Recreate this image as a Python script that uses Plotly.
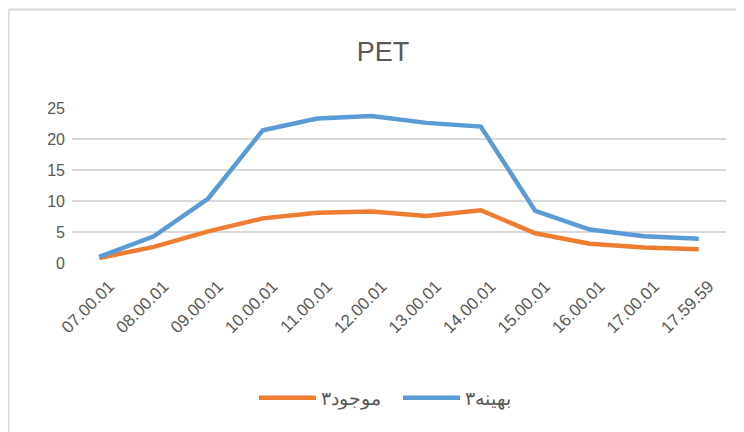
import plotly.graph_objects as go

times = ["07.00.01", "08.00.01", "09.00.01", "10.00.01", "11.00.01", "12.00.01",
         "13.00.01", "14.00.01", "15.00.01", "16.00.01", "17.00.01", "17.59.59"]
mojood = [0.8, 2.6, 5.1, 7.2, 8.1, 8.3, 7.6, 8.5, 4.8, 3.1, 2.5, 2.2]
behineh = [1.0, 4.3, 10.4, 21.4, 23.3, 23.7, 22.6, 22.0, 8.4, 5.4, 4.3, 3.9]

# the page body keeps its default 8px margin, so the figure sits 8px right/down
W, H = 744, 432
OFF = 8
L, R, T, B = 72 - OFF, W - (726 - OFF), 108 - OFF, H - (263 - OFF)
pw, ph = W - L - R, H - T - B

fig = go.Figure()
fig.add_trace(go.Scatter(x=times, y=mojood, mode="lines", name="موجود۳",
                         line=dict(color="#ED7D31", width=4.5)))
fig.add_trace(go.Scatter(x=times, y=behineh, mode="lines", name="بهینه۳",
                         line=dict(color="#5B9BD5", width=4.5)))

# outer chart border (only top and left visible in the picture)
bx = (0.5 - L) / pw
by = (H - B - 1.5) / ph
fig.add_shape(type="line", xref="paper", yref="paper", x0=bx, x1=bx, y0=by, y1=-2,
              line=dict(color="#d9d9d9", width=2))
fig.add_shape(type="line", xref="paper", yref="paper", x0=bx, x1=2, y0=by, y1=by,
              line=dict(color="#d9d9d9", width=2))

fig.update_layout(
    width=W, height=H,
    margin=dict(l=L, r=R, t=T, b=B, autoexpand=False),
    plot_bgcolor="white", paper_bgcolor="white",
    font=dict(family="Liberation Sans", color="#595959"),
    title=dict(text="PET", x=(383 - OFF) / W, xanchor="center",
               y=1 - (52 - OFF) / H, yanchor="middle",
               font=dict(size=27, color="#595959")),
    showlegend=True,
    legend=dict(orientation="h", x=(398 - OFF - L) / pw, xanchor="center",
                y=(H - B - (398 - OFF)) / ph, yanchor="middle",
                font=dict(size=19, color="#595959"), itemwidth=57,
                entrywidth=72),
)
fig.update_xaxes(type="category", range=[-0.5, 11.5], tickangle=-45, showgrid=False,
                 showline=False, automargin=False, ticks="", ticklabelstandoff=9,
                 ticklabelshift=10, tickfont=dict(size=17, color="#595959"))
fig.update_yaxes(range=[0, 25], tickvals=[0, 5, 10, 15, 20, 25], showgrid=True,
                 gridcolor="#d9d9d9", gridwidth=1.5, zeroline=False, showline=False,
                 automargin=False, ticks="", ticklabelstandoff=6,
                 tickfont=dict(size=16, color="#595959"))

fig.write_html("out.html")
